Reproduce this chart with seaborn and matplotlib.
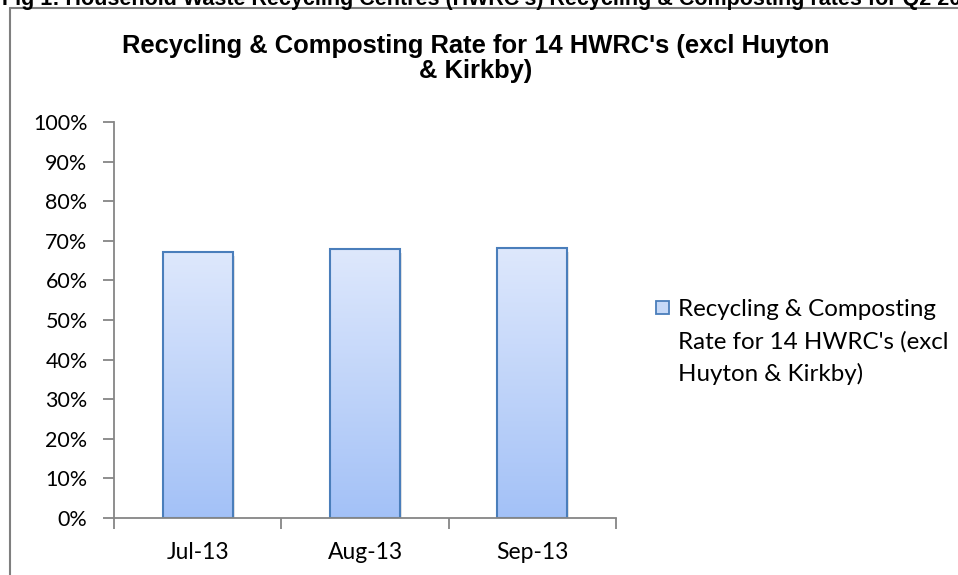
import numpy as np
import pandas as pd
import matplotlib
matplotlib.use('Agg')
import matplotlib.pyplot as plt
import seaborn as sns
from matplotlib.patches import Rectangle
from matplotlib.lines import Line2D
from matplotlib.colors import LinearSegmentedColormap
from matplotlib.ticker import PercentFormatter

# Data
months = ['Jul-13', 'Aug-13', 'Sep-13']
rates = [0.672, 0.679, 0.682]
series_name = "Recycling & Composting Rate for 14 HWRC's (excl Huyton & Kirkby)"
legend_label = "Recycling & Composting\nRate for 14 HWRC's (excl\nHuyton & Kirkby)"
title = "Recycling & Composting Rate for 14 HWRC's (excl Huyton\n& Kirkby)"
caption = "Fig 1: Household Waste Recycling Centres (HWRC's) Recycling & Composting rates for Q2 2013"

df = pd.DataFrame({'month': months, 'rate': rates, 'series': series_name})

sns.set_style('white')
plt.rcParams['font.family'] = ['Lato', 'DejaVu Sans']
plt.rcParams['text.color'] = 'black'

W, H = 958, 575
fig = plt.figure(figsize=(W / 100, H / 100), dpi=100)
ax = fig.add_axes([114 / W, 1 - 518 / H, (616 - 114) / W, (518 - 122) / H])

sns.barplot(data=df, x='month', y='rate', hue='series', ax=ax,
            palette=['#bcd3f9'], width=0.42, edgecolor='#4a7ebb',
            linewidth=1.5, legend=False)

# gradient fill clipped to each bar
cmap = LinearSegmentedColormap.from_list('grad', ['#a3c1f7', '#dee8fc'])
grad = np.linspace(0, 1, 256).reshape(-1, 1)
for bar in ax.patches:
    x0, y0 = bar.get_x(), bar.get_y()
    w, h = bar.get_width(), bar.get_height()
    im = ax.imshow(grad, extent=[x0, x0 + w, y0, y0 + h], origin='lower',
                   cmap=cmap, aspect='auto', zorder=bar.get_zorder() - 0.1)
    im.set_clip_path(bar)
    bar.set_facecolor('none')
    # soft shadow on the right
    ax.add_patch(Rectangle((x0 + w, y0), 0.012, h * 0.985, color='#d9d9d9',
                           alpha=0.7, zorder=bar.get_zorder() - 0.2, lw=0))

ax.set_xlim(-0.5, 2.5)
ax.set_ylim(0, 1)
ax.set_yticks(np.arange(0, 1.01, 0.1))
ax.yaxis.set_major_formatter(PercentFormatter(1.0, decimals=0))
ax.set_xticks(range(len(months)))
ax.set_xticklabels(months)
ax.set_xticks([-0.5, 0.5, 1.5, 2.5], minor=True)
ax.set_xlabel('')
ax.set_ylabel('')

for s in ['top', 'right']:
    ax.spines[s].set_visible(False)
for s in ['left', 'bottom']:
    ax.spines[s].set_color('#868686')
    ax.spines[s].set_linewidth(1.3)

ax.tick_params(axis='y', which='major', left=True, length=8, width=1.3,
               color='#868686', labelsize=15.5, pad=11, labelcolor='black')
ax.tick_params(axis='x', which='major', bottom=False, labelsize=16.5, pad=14,
               labelcolor='black')
ax.tick_params(axis='x', which='minor', bottom=True, length=8, width=1.3,
               color='#868686')

# title (baseline alignment refers to the last line here)
fig.text(476 / W, 1 - 78 / H, title, ha='center', va='baseline',
         fontsize=18.4, fontweight='bold', linespacing=1.05, color='black',
         family=['Liberation Sans', 'DejaVu Sans'])

# legend
fig.patches.append(Rectangle((656 / W, 1 - 314 / H), 13 / W, 13 / H,
                             transform=fig.transFigure, facecolor='#c6d9f8',
                             edgecolor='#4a7ebb', lw=1.3))
fig.text(678 / W, 1 - 381 / H, legend_label, ha='left', va='baseline',
         fontsize=17.4, linespacing=1.59, color='black')

# chart frame and cut caption
fig.add_artist(Line2D([10 / W, 10 / W], [0, 1 - 8 / H], color='#7f7f7f', lw=1.5))
fig.add_artist(Line2D([10 / W, 1], [1 - 8 / H, 1 - 8 / H], color='#7f7f7f', lw=1.5))
fig.text(2 / W, 1 - 5 / H, caption, ha='left', va='baseline', fontsize=15.5,
         fontweight='bold', color='black',
         family=['Liberation Sans', 'DejaVu Sans'])

fig.savefig('out.png', dpi=100)
